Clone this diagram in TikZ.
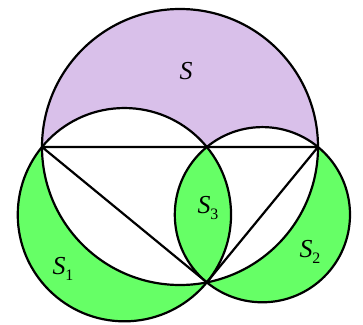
\documentclass[tikz,border=0pt]{standalone}
\usepackage{fontspec}
\setmainfont{Liberation Serif}
\usepackage{tikz}
\usetikzlibrary{calc}
\definecolor{lunepurple}{RGB}{217, 192, 234}
\definecolor{lunegreen}{RGB}{102, 255, 102}
\newcommand{\lunesub}[1]{\raisebox{-0.45ex}{\fontsize{16}{18}\selectfont #1}}
\tikzset{
  edge/.style={draw=black, line width=2.2bp},
  area/.style={font=\fontsize{26}{30}\selectfont, inner sep=0pt}
}

\begin{document}
\begin{tikzpicture}[x=1bp, y=1bp]
\useasboundingbox (0,0) rectangle (363,325);
% triangle and centres
\coordinate (A) at (42,178);
\coordinate (B) at (318,178);
\coordinate (O) at (180,178);
\coordinate (C) at ($(O)+(-78.8:138)$);
\coordinate (MA) at ($(A)!0.5!(C)$);
\coordinate (MB) at ($(B)!0.5!(C)$);
% fills
\fill[lunepurple] (B) arc (0:180:138) -- cycle;
\fill[lunegreen] (MA) circle (106.65);
\fill[lunegreen] (MB) circle (87.6);
\begin{scope}
\clip (O) circle (138);
\fill[white] (MA) circle (106.65);
\fill[white] (MB) circle (87.6);
\end{scope}
\begin{scope}
\clip (MA) circle (106.65);
\fill[lunegreen] (MB) circle (87.6);
\end{scope}
% outlines
\draw[edge] (O) circle (138);
\draw[edge] (MA) circle (106.65);
\draw[edge] (MB) circle (87.6);
\draw[edge, line join=round] (A) -- (B) -- (C) -- cycle;
% labels
\node[area] (s) at (186,253.5) {\textit{S}};
\node[area] (s1) at (63,56) {\textit{S}\lunesub{1}};
\node[area] (s2) at (310,73) {\textit{S}\lunesub{2}};
\node[area] (s3) at (208,117) {\textit{S}\lunesub{3}};
\end{tikzpicture}
\end{document}
